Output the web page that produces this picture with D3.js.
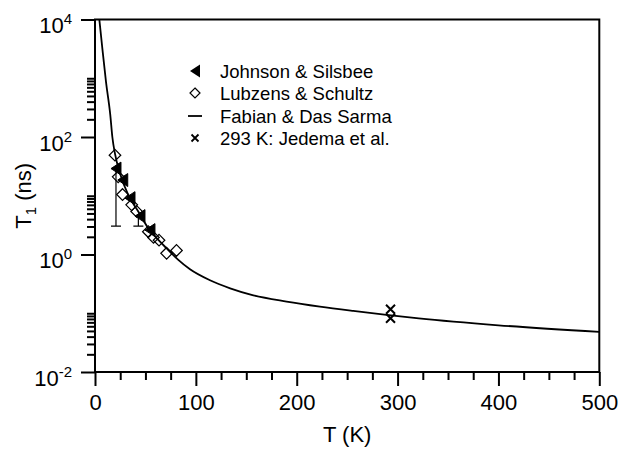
<!DOCTYPE html>
<html><head><meta charset="utf-8">
<script src="https://cdn.jsdelivr.net/npm/d3@7"></script>
<style>
body{margin:0;background:#fff}
svg{display:block}
text{font-family:"Liberation Sans",Arial,Helvetica,sans-serif;fill:#000}
</style>
</head><body>
<svg id="c" width="623" height="449"></svg>
<script>
// ---- data ----
const xTicksMajor = [0, 100, 200, 300, 400, 500];
const xTicksMinor = [25, 50, 75, 125, 150, 175, 225, 250, 275, 325, 350, 375, 425, 450, 475];
const yTicksMajor = [1e-2, 1e0, 1e2, 1e4];
const yMinorDecades = [1e-2, 1e0, 1e2];
const yMinorMultipliers = [2, 3, 4, 5, 6, 7, 8, 9, 10];

// Fabian & Das Sarma theory curve
const curveT  = [4.3, 7.3, 10.9, 15.2, 17.2, 19.8, 24.8, 33.0, 42.9, 52.8, 62.8, 71.1, 82.6, 94.2, 114, 134, 157, 190, 223, 256, 289, 321, 400, 500];
const curveT1 = [1e4, 3200, 870, 234, 100, 52, 24, 10.3, 5.4, 2.8, 1.77, 1.27, 0.809, 0.560, 0.364, 0.266, 0.202, 0.158, 0.1297, 0.1096, 0.0938, 0.0817, 0.0624, 0.0483];

// Johnson & Silsbee (filled left triangles)
const johnsonT  = [20.8, 27.5, 34.7, 44.6, 54.5];
const johnsonT1 = [29, 18.5, 9.1, 4.5, 2.6];
// error bars (lower ends)
const errT    = [20.8, 43];
const errHigh = [29, 4.5];
const errLow  = [3.05, 3.05];

// Lubzens & Schultz (open diamonds)
const lubzensT  = [19.8, 23, 27.3, 36.4, 41.3, 52.9, 58.0, 63.5, 71.0, 80.8];
const lubzensT1 = [49, 21, 10.5, 7.0, 5.4, 2.44, 1.95, 1.75, 1.05, 1.17];

// 293 K: Jedema et al. (crosses)
const jedemaT  = [293, 293];
const jedemaT1 = [0.117, 0.082];

const legendLabels = ["Johnson & Silsbee", "Lubzens & Schultz", "Fabian & Das Sarma", "293 K: Jedema et al."];
const xTitle = "T (K)";

// ---- drawing ----
const svg = d3.select("#c");
svg.append("rect").attr("width", 623).attr("height", 449).attr("fill", "#fff");

const L = 95, R = 599.3, T = 19.5, B = 372;
const x = d3.scaleLinear().domain([0, 500]).range([L, R]);
const y = d3.scaleLog().domain([1e-2, 1e4]).range([B, T]);

// frame
svg.append("rect").attr("x", L).attr("y", T).attr("width", R - L).attr("height", B - T)
  .attr("fill", "none").attr("stroke", "#000").attr("stroke-width", 2);

// x axis ticks
const gxMaj = svg.append("g").attr("transform", `translate(0,${B})`)
  .call(d3.axisBottom(x).tickValues(xTicksMajor).tickSize(14).tickSizeOuter(0).tickPadding(6).tickFormat(d3.format("d")));
const gxMin = svg.append("g").attr("transform", `translate(0,${B})`)
  .call(d3.axisBottom(x).tickValues(xTicksMinor).tickSize(8).tickSizeOuter(0).tickFormat(""));
[gxMaj, gxMin].forEach(g => {
  g.select(".domain").remove();
  g.selectAll(".tick line").attr("stroke", "#000").attr("stroke-width", 2);
});
gxMaj.selectAll(".tick text").attr("font-size", 22).attr("font-family", "Liberation Sans, Arial, sans-serif")
  .attr("y", null).attr("dy", null).attr("transform", "translate(0,38)");

// y axis ticks
const yMinor = [];
yMinorDecades.forEach(d => yMinorMultipliers.forEach(k => yMinor.push(d * k)));
const gyMaj = svg.append("g").attr("transform", `translate(${L},0)`)
  .call(d3.axisLeft(y).tickValues(yTicksMajor).tickSize(14).tickSizeOuter(0).tickFormat(""));
const gyMin = svg.append("g").attr("transform", `translate(${L},0)`)
  .call(d3.axisLeft(y).tickValues(yMinor).tickSize(8).tickSizeOuter(0).tickFormat(""));
[gyMaj, gyMin].forEach(g => {
  g.select(".domain").remove();
  g.selectAll(".tick line").attr("stroke", "#000").attr("stroke-width", 2);
});
gyMaj.selectAll(".tick").each(function (d) {
  const t = d3.select(this).append("text").attr("x", 72 - L).attr("y", 13)
    .attr("text-anchor", "end").attr("fill", "#000");
  t.append("tspan").attr("font-size", 22).text("10");
  t.append("tspan").attr("font-size", 15).attr("dy", -9).text(String(Math.round(Math.log10(d))));
});

// axis titles
svg.append("text").attr("x", (L + R) / 2).attr("y", 442).attr("text-anchor", "middle")
  .attr("font-size", 22).text(xTitle);
const yt = svg.append("text").attr("transform", `translate(31,${(T + B) / 2}) rotate(-90)`)
  .attr("text-anchor", "middle").attr("font-size", 22);
yt.append("tspan").text("T");
yt.append("tspan").attr("font-size", 15).attr("dy", 5).text("1");
yt.append("tspan").attr("dy", -5).text(" (ns)");

// clip
svg.append("clipPath").attr("id", "pc").append("rect")
  .attr("x", L).attr("y", T).attr("width", R - L).attr("height", B - T);
const plot = svg.append("g").attr("clip-path", "url(#pc)");

// theory curve
const line = d3.line().x(d => x(d[0])).y(d => y(d[1])).curve(d3.curveMonotoneX);
plot.append("path").datum(curveT.map((t, i) => [t, curveT1[i]]))
  .attr("d", line).attr("fill", "none").attr("stroke", "#000").attr("stroke-width", 1.8);

// error bars
errT.forEach((t, i) => {
  const g = plot.append("g").attr("stroke", "#000").attr("stroke-width", 1.2);
  g.append("line").attr("x1", x(t)).attr("x2", x(t)).attr("y1", y(errHigh[i])).attr("y2", y(errLow[i]));
  g.append("line").attr("x1", x(t) - 5).attr("x2", x(t) + 5).attr("y1", y(errLow[i])).attr("y2", y(errLow[i]));
});

// markers
const triPath = "M-5,0L5,-6.5L5,6.5Z";
const diaPath = (s) => `M0,${-s}L${s},0L0,${s}L${-s},0Z`;
const crossPath = (s) => `M${-s},${-s}L${s},${s}M${-s},${s}L${s},${-s}`;

plot.selectAll(".lub").data(lubzensT.map((t, i) => [t, lubzensT1[i]])).enter().append("path")
  .attr("transform", d => `translate(${x(d[0])},${y(d[1])})`)
  .attr("d", diaPath(5.8)).attr("fill", "none").attr("stroke", "#000").attr("stroke-width", 1.2);

plot.selectAll(".joh").data(johnsonT.map((t, i) => [t, johnsonT1[i]])).enter().append("path")
  .attr("transform", d => `translate(${x(d[0])},${y(d[1])})`)
  .attr("d", triPath).attr("fill", "#000").attr("stroke", "#000").attr("stroke-width", 1);

plot.selectAll(".jed").data(jedemaT.map((t, i) => [t, jedemaT1[i]])).enter().append("path")
  .attr("transform", d => `translate(${x(d[0])},${y(d[1])})`)
  .attr("d", crossPath(4.5)).attr("fill", "none").attr("stroke", "#000").attr("stroke-width", 2);

// legend
const lg = svg.append("g");
const rowY = [71, 93, 116, 138];
lg.append("path").attr("transform", `translate(195,${rowY[0]})`).attr("d", triPath).attr("fill", "#000");
lg.append("path").attr("transform", `translate(195,${rowY[1]})`).attr("d", diaPath(5))
  .attr("fill", "none").attr("stroke", "#000").attr("stroke-width", 1.2);
lg.append("line").attr("x1", 188).attr("x2", 202).attr("y1", rowY[2]).attr("y2", rowY[2])
  .attr("stroke", "#000").attr("stroke-width", 1.8);
lg.append("path").attr("transform", `translate(195,${rowY[3]})`).attr("d", crossPath(3.5))
  .attr("fill", "none").attr("stroke", "#000").attr("stroke-width", 1.8);
legendLabels.forEach((s, i) => {
  lg.append("text").attr("x", 220).attr("y", rowY[i] + 6.5).attr("font-size", 18.5).text(s);
});
</script>
</body></html>
